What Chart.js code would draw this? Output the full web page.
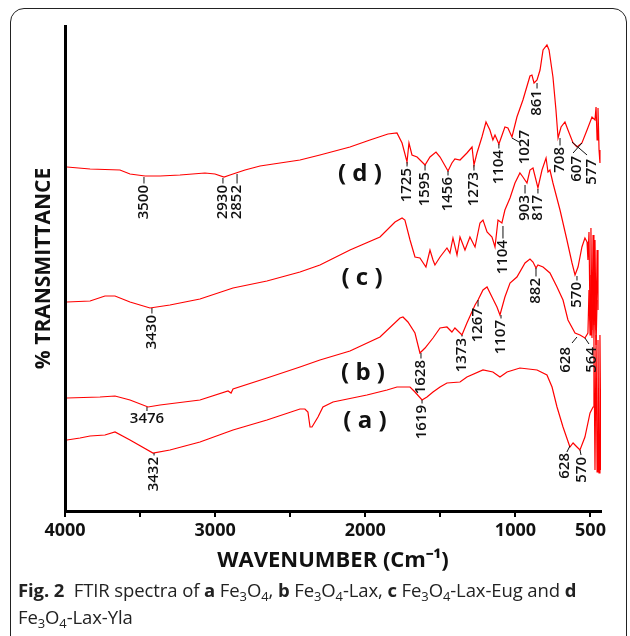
<!DOCTYPE html>
<html lang="en">
<head>
<meta charset="UTF-8">
<title>FTIR spectra</title>
<style>
  body { margin: 0; background: #fff; }
  #wrap { position: relative; width: 630px; height: 636px; overflow: hidden; }
  .frame { position: absolute; left: 10px; top: 8px; width: 617px; height: 700px;
           border: 1.5px solid #222; border-radius: 14px 14px 0 0; box-sizing: border-box; }
  canvas { position: absolute; left: 0; top: 0; }
  .cap { position: absolute; left: 18px; top: 576px; font-family: "Open Sans", sans-serif;
         font-size: 18.5px; line-height: 27px; color: #222; white-space: nowrap; letter-spacing: -0.1px; }
  .cap sub { font-size: 70%; line-height: 0; vertical-align: -0.3em; }
</style>
</head>
<body>
<div id="wrap">
  <div class="frame"></div>
  <canvas id="ftir" width="630" height="580"></canvas>
  <div class="cap"><b>Fig. 2</b>&nbsp; FTIR spectra of <b>a</b> Fe<sub>3</sub>O<sub>4</sub>, <b>b</b> Fe<sub>3</sub>O<sub>4</sub>-Lax, <b>c</b> Fe<sub>3</sub>O<sub>4</sub>-Lax-Eug and <b>d</b><br>Fe<sub>3</sub>O<sub>4</sub>-Lax-Yla</div>
</div>

<script src="https://cdn.jsdelivr.net/npm/chart.js"></script>
<script>
  // spectra (wavenumber, % transmittance in arbitrary offset units)
  const aWn = [3987,3900,3833,3734,3667,3567,3414,3301,3101,2881,2655,2435,2402,2382,2368,2355,2335,2315,2282,2215,1989,1855,1789,1702,1669,1622,1589,1549,1502,1456,1369,1323,1216,1150,1103,1056,970,856,790,756,723,683,637,616,590,570,537,503,483,477,470,463,456,450,443,437,430];
  const aT  = [14.2,14.6,15,15.2,15.8,14.2,11.6,12.2,13.8,16.2,18.2,20.4,20.4,19.8,16.8,16.8,17.8,18.8,20.8,21.8,23.2,24.2,24.8,24.8,23.8,22.2,22.8,23.8,24.8,25.6,25.8,26.8,28.2,27.8,26.8,27.8,28.6,28.2,27.2,24.8,20.8,16.8,12.8,13.6,12.8,12.2,14.8,19.6,20.8,34.2,8.2,35.2,7.8,34.2,7.6,35.2,8.2];

  const bWn = [3987,3767,3667,3567,3447,3367,3101,2914,2894,2881,2655,2435,2302,2102,1902,1769,1749,1716,1669,1636,1602,1549,1502,1456,1423,1403,1356,1323,1269,1249,1216,1189,1156,1123,1103,1070,1036,990,936,903,883,863,850,816,770,723,683,650,603,570,537,517,510,503,497,490,483,477,470,463,456];
  const bT  = [22.6,22.8,23,22.2,20.8,21.2,22.2,24,23.6,24.4,26.6,28.8,30.2,32,34.8,38.6,38.8,37.8,35.6,31.6,32.6,34.6,36.6,36.8,35.8,36.6,35.2,37.6,41.2,42.2,44.2,44.8,42.8,40.8,39.2,42.8,45.6,46.8,49.6,50.4,49.8,48.6,49.2,48.8,47.6,44.8,42.2,38.2,35.6,35.2,34.6,35.6,44.2,35.2,47.2,34.6,45.2,34.2,44.2,33.2,42.2];

  const cWn = [3987,3833,3734,3667,3567,3434,3301,3101,2881,2655,2435,2302,2102,1902,1802,1755,1736,1702,1669,1636,1596,1569,1549,1536,1502,1456,1436,1416,1389,1369,1336,1303,1269,1236,1216,1189,1156,1136,1116,1090,1070,1036,1003,970,950,923,903,883,850,823,796,783,770,750,703,657,623,603,583,557,537,523,517,510,503,497,490,483,477,470,463,456,450];
  const cT  = [41.8,42,43,43,41.8,40.6,41.2,42.4,44.6,46,47.8,49.2,52.2,54.8,57.8,58.6,58.2,54.2,50.8,50.6,48.8,52.2,50.2,49.2,50.8,52.6,51.6,54.6,51.2,54.8,52.2,54.8,52.8,57.6,58.2,55.8,54.8,52.8,58.2,57.6,60.2,62.6,65.6,67.6,66.8,65.6,68.2,68.6,64.6,68.2,70.6,67.8,68.2,65.6,60.2,54.2,49.6,47.2,48.8,52.8,54.6,53.8,50.2,55.8,38.2,56.6,36.2,55.2,37.2,54.2,36.2,52.2,40.2];

  const dWn = [3987,3833,3634,3567,3467,3367,3234,3068,3001,2941,2901,2861,2801,2701,2568,2435,2302,2102,1969,1849,1789,1755,1722,1709,1689,1655,1602,1569,1529,1502,1449,1423,1403,1369,1323,1289,1276,1256,1223,1196,1170,1150,1136,1110,1070,1050,1023,990,950,903,890,876,856,836,816,790,776,750,730,716,696,670,650,616,590,557,523,490,470,463,456,450,443,437];
  const dT  = [68.8,68.4,68.2,67.4,67,67,67.2,67.6,67.4,66.8,67.2,67.6,68.2,69,69.6,70.2,71.2,72.8,74.2,75.4,75.6,73.6,69.8,73.6,71.2,70.8,69.2,70.8,71.8,70.8,68,69.6,70.4,70.2,71.6,72.8,69.2,71.6,74.8,77.8,76.2,74.2,75.2,73.4,76.8,76.6,74.8,78.8,82.2,87,87.2,85.6,86.2,88.2,92.2,93.2,92.2,86.8,80.2,74.6,76.8,77.8,76.2,73.6,72.8,73.6,76.2,78.8,78.2,80.8,74.2,80.6,72.2,69.6];

  const xTicks = [4000, 3500, 3000, 2500, 2000, 1500, 1000, 500];
  const xTickLabels = [4000, 3000, 2000, 1000, 500];

  const seriesNames = ['( a )', '( b )', '( c )', '( d )'];
  const seriesLabelX = [2002, 2015, 2022, 2036];
  const seriesLabelY = [18, 27.6, 46.6, 67.4];

  // peak label: text, x, top of text, leader from (x1,y1) to (x2,y2)
  function pk(t, x, curve, top) { return [t, x, top, x, curve, x, top + 0.3]; }
  const peakLabels = [
    // d
    pk('3500', 3474, 66.8, 65.2), pk('2930', 2948, 66.6, 65.2), pk('2852', 2854, 67.4, 65.2),
    pk('1725', 1722, 69.8, 68.6), pk('1595', 1602, 69.2, 67.8), pk('1456', 1449, 68, 66.8),
    pk('1273', 1276, 69.2, 67.8), pk('1104', 1110, 73.4, 72.2),
    ['1027', 936, 76.2, 1023, 74.6, 976, 73.8],
    pk('861', 856, 85.6, 84.2), pk('708', 703, 74.6, 72.8),
    ['607', 590, 71, 557, 73.6, 616, 71.6],
    ['577', 490, 70.4, 623, 73.8, 523, 71.2],
    // c
    pk('3430', 3421, 40.6, 39.2), pk('1104', 1083, 57, 54.2),
    pk('903', 936, 65.2, 63.2), pk('817', 850, 64.4, 63.2), pk('570', 590, 47, 45.8),
    // b
    pk('1628', 1629, 31.6, 30.2), pk('1373', 1356, 35.2, 34.6), pk('1267', 1249, 42.2, 40.6),
    pk('1107', 1096, 39.2, 38.2), pk('882', 863, 48.6, 46.6),
    ['628', 663, 32.8, 590, 34.8, 623, 33.6],
    ['564', 490, 32.8, 537, 34.6, 510, 33.4],
    // a
    pk('3432', 3407, 11.6, 10.8), pk('1619', 1622, 22.2, 21.2),
    ['628', 670, 11.6, 637, 13, 657, 11.8],
    ['570', 557, 10.8, 570, 12.2, 563, 11.2]
  ];
  // horizontal label: text, x, centre y, leader top, leader bottom
  const flatLabels = [['3476', 3454, 18.4, 20.8, 20]];

  const labelPlugin = {
    id: 'peakLabels',
    afterDatasetsDraw(chart) {
      const { ctx, scales: { x, y } } = chart;
      ctx.save();
      ctx.strokeStyle = '#111';
      ctx.fillStyle = '#111';
      ctx.lineWidth = 1;
      ctx.font = '600 15px "Open Sans"';
      peakLabels.forEach(p => {
        ctx.beginPath();
        ctx.moveTo(x.getPixelForValue(p[3]), y.getPixelForValue(p[4]));
        ctx.lineTo(x.getPixelForValue(p[5]), y.getPixelForValue(p[6]));
        ctx.stroke();
        ctx.save();
        ctx.translate(x.getPixelForValue(p[1]), y.getPixelForValue(p[2]));
        ctx.rotate(-Math.PI / 2);
        ctx.textAlign = 'right';
        ctx.textBaseline = 'middle';
        ctx.fillText(p[0], 0, 0);
        ctx.restore();
      });
      flatLabels.forEach(p => {
        const px = x.getPixelForValue(p[1]);
        ctx.beginPath();
        ctx.moveTo(px, y.getPixelForValue(p[3]));
        ctx.lineTo(px, y.getPixelForValue(p[4]));
        ctx.stroke();
        ctx.textAlign = 'center';
        ctx.textBaseline = 'middle';
        ctx.fillText(p[0], px, y.getPixelForValue(p[2]));
      });
      ctx.font = 'bold 24px "Open Sans"';
      ctx.textAlign = 'center';
      ctx.textBaseline = 'middle';
      seriesNames.forEach((s, i) => {
        ctx.fillText(s, x.getPixelForValue(seriesLabelX[i]), y.getPixelForValue(seriesLabelY[i]));
      });
      ctx.restore();
    }
  };

  function spectrum(wn, t) {
    return {
      data: wn.map((w, i) => ({ x: w, y: t[i] })),
      borderColor: '#ff0000',
      borderWidth: 1.2,
      pointRadius: 0,
      tension: 0,
      fill: false
    };
  }

  new Chart(document.getElementById('ftir'), {
    type: 'line',
    data: { datasets: [spectrum(aWn, aT), spectrum(bWn, bT), spectrum(cWn, cT), spectrum(dWn, dT)] },
    options: {
      responsive: false,
      animation: false,
      layout: { padding: { top: 26, right: 29, left: 0, bottom: 0 } },
      plugins: { legend: { display: false }, tooltip: { enabled: false } },
      scales: {
        x: {
          type: 'linear',
          reverse: true,
          min: 430,
          max: 4000,
          afterBuildTicks: s => { s.ticks = xTicks.map(v => ({ value: v })); },
          afterFit: s => { s.height = 69; },
          ticks: {
            autoSkip: false,
            maxRotation: 0,
            padding: 3,
            color: '#111',
            font: { family: 'Open Sans', weight: 'bold', size: 18 },
            callback: v => xTickLabels.includes(v) ? String(v) : ''
          },
          grid: { drawOnChartArea: false, tickLength: 6, color: '#000', lineWidth: 2 },
          border: { color: '#000', width: 3 },
          title: {
            display: true,
            text: 'WAVENUMBER (Cm⁻¹)',
            color: '#111',
            font: { family: 'Open Sans', weight: 'bold', size: 22 },
            padding: { bottom: 6 }
          }
        },
        y: {
          min: 0,
          max: 97,
          afterFit: s => { s.width = 65; },
          ticks: { display: false },
          grid: { drawOnChartArea: false, drawTicks: false },
          border: { color: '#000', width: 3 },
          title: {
            display: true,
            text: '% TRANSMITTANCE',
            color: '#111',
            font: { family: 'Open Sans', weight: 'bold', size: 21 },
            padding: { top: 31 }
          }
        }
      }
    },
    plugins: [labelPlugin]
  });
</script>
</body>
</html>
